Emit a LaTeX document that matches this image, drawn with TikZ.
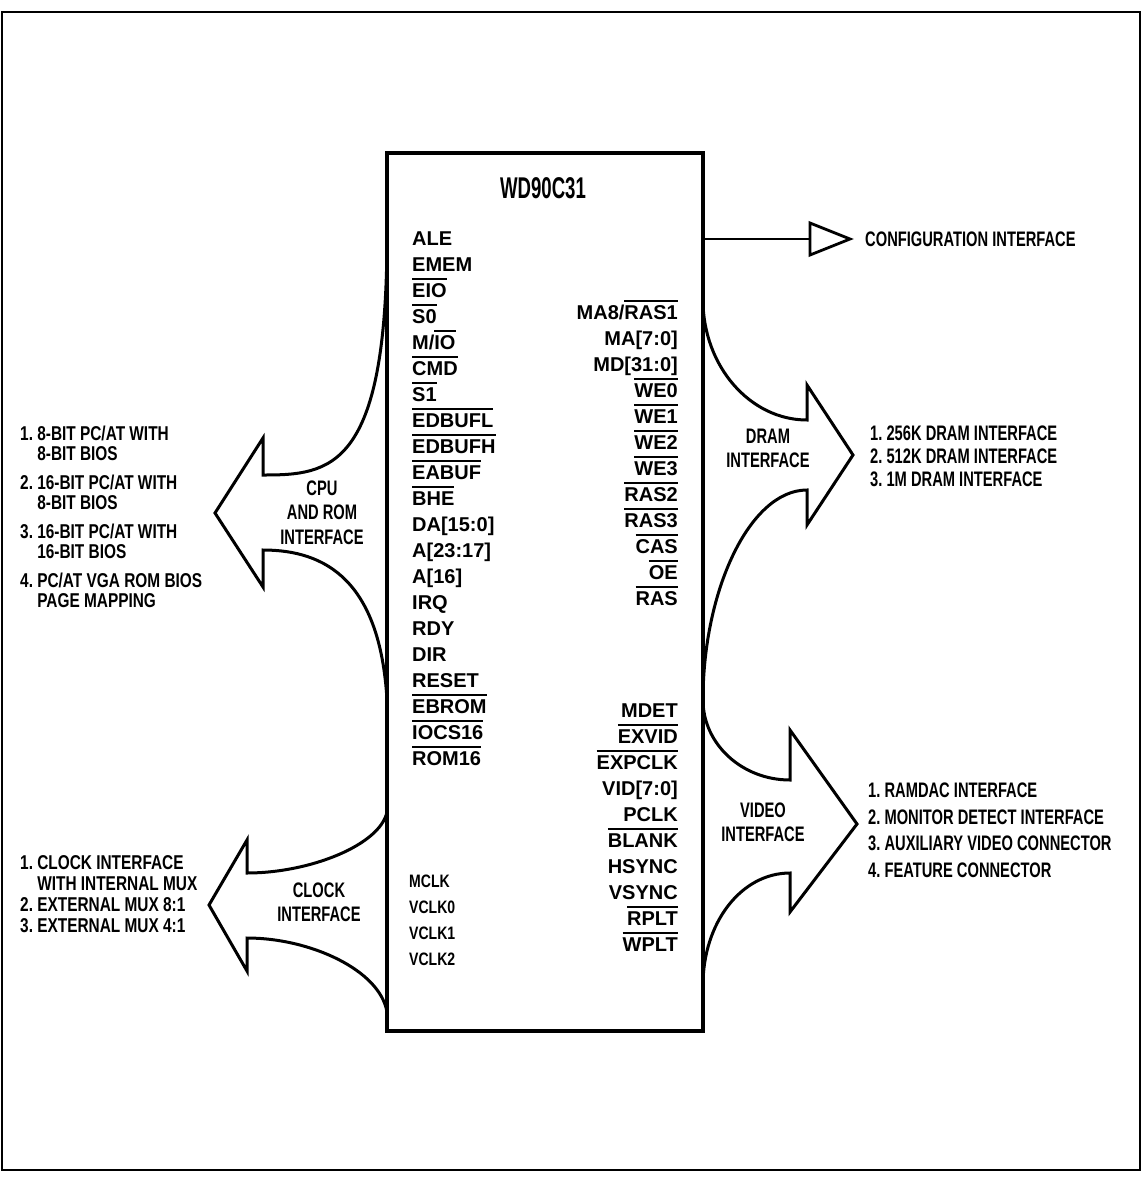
\documentclass[tikz,border=0pt]{standalone}
\usepackage{fontspec}
\setmainfont{Liberation Sans}
\newfontfamily\narrowfont{Liberation Sans}[FakeStretch=0.7]
\newfontfamily\listfont{Liberation Sans}[FakeStretch=0.77]
\newfontfamily\titlefont{Liberation Sans}[FakeStretch=0.62]
\newfontfamily\clkfont{Liberation Sans}[FakeStretch=0.78]
\usetikzlibrary{positioning}
% active-low signal names
\newcommand{\actlow}[1]{\vbox{\hrule height 1.8pt\kern 3pt\hbox{#1}}}

\begin{document}
\begin{tikzpicture}[x=1pt,y=-1pt,
  pin/.style={font=\fontsize{20}{20}\selectfont\bfseries,inner sep=0pt},
  clk/.style={font=\fontsize{18}{18}\selectfont\clkfont\bfseries,inner sep=0pt,anchor=base west},
  desc/.style={font=\fontsize{21}{21}\selectfont\narrowfont\bfseries,inner sep=0pt},
  lst/.style={font=\fontsize{20}{20}\selectfont\listfont\bfseries,inner sep=0pt,anchor=base west},
  blk/.style={font=\fontsize{21}{24.5}\selectfont\narrowfont\bfseries,inner sep=0pt,align=center},
  bigarrow/.style={line width=3pt,line join=miter}]
  \useasboundingbox (0,0) rectangle (1143,1178);
  \draw[line width=2.5pt] (2,12) rectangle (1140,1170);

  % the chip
  \node[draw,line width=3.3pt,minimum width=316pt,minimum height=878pt,inner sep=0pt] (chip) at (545,592) {};
  \node[font=\fontsize{30}{30}\selectfont\titlefont\bfseries,anchor=base,inner sep=0pt] (title) at (543,198) {WD90C31};

  \foreach \p [count=\i from 0] in {ALE,EMEM,\actlow{EIO},\actlow{S0},M/\actlow{IO},\actlow{CMD},\actlow{S1},\actlow{EDBUFL},\actlow{EDBUFH},\actlow{EABUF},\actlow{BHE},DA[15:0],A[23:17],A[16],IRQ,RDY,DIR,RESET,\actlow{EBROM},\actlow{IOCS16},\actlow{ROM16}}
    \node[pin,anchor=base west] (cpu\i) at (412,{245+26*\i}) {\p};
  \foreach \p [count=\i from 0] in {MA8/\actlow{RAS1},MA[7:0],MD[31:0],\actlow{WE0},\actlow{WE1},\actlow{WE2},\actlow{WE3},\actlow{RAS2},\actlow{RAS3},\actlow{CAS},\actlow{OE},\actlow{RAS}}
    \node[pin,anchor=base east] (mem\i) at (678,{319+26*\i}) {\p};
  \foreach \p [count=\i from 0] in {MDET,\actlow{EXVID},\actlow{EXPCLK},VID[7:0],PCLK,\actlow{BLANK},HSYNC,VSYNC,\actlow{RPLT},\actlow{WPLT}}
    \node[pin,anchor=base east] (vid\i) at (678,{717+26*\i}) {\p};
  \foreach \p [count=\i from 0] in {MCLK,VCLK0,VCLK1,VCLK2}
    \node[clk] (clk\i) at (409,{887+26*\i}) {\p};

  % configuration
  \coordinate (cfgbase) at (810,239);
  \draw[line width=2.8pt,line join=miter] (810,223) -- (850,239) -- (810,255) -- cycle;
  \draw[line width=2pt] (chip.east |- cfgbase) -- (cfgbase);
  \node[desc,anchor=base west] (cfgtxt) at (865,246) {CONFIGURATION INTERFACE};

  % cpu and rom
  \draw[bigarrow] (387,235) .. controls (387,470) and (330,475) .. (263,475) -- (263,438) -- (215,513)
    -- (263,587) -- (263,550) .. controls (325,550) and (380,580) .. (387,700);
  \node[blk] (cpulbl) at (322,512.5) {CPU\\AND ROM\\INTERFACE};
  \foreach \t [count=\i from 0] in {1.\ 8-BIT PC/AT WITH,\hphantom{1.}\ 8-BIT BIOS,2.\ 16-BIT PC/AT WITH,\hphantom{2.}\ 8-BIT BIOS,3.\ 16-BIT PC/AT WITH,\hphantom{3.}\ 16-BIT BIOS,4.\ PC/AT VGA ROM BIOS,\hphantom{4.}\ PAGE MAPPING}{
    \pgfmathsetmacro\yy{440+49*int(\i/2)+20*mod(\i,2)}
    \node[lst] (cpul\i) at (20,\yy) {\t};
  }

  % clock
  \draw[bigarrow] (387,812) .. controls (380,845) and (310,873) .. (247,873) -- (247,840) -- (209,905)
    -- (247,971) -- (247,938) .. controls (310,938) and (380,970) .. (387,1012);
  \node[blk] (clklbl) at (319,902.5) {CLOCK\\INTERFACE};
  \foreach \t [count=\i from 0] in {1.\ CLOCK INTERFACE,\hphantom{1.}\ WITH INTERNAL MUX,2.\ EXTERNAL MUX 8:1,3.\ EXTERNAL MUX 4:1}
    \node[lst] (clkl\i) at (20,{869+21*\i}) {\t};

  % dram
  \draw[bigarrow] (703,300) .. controls (703,366) and (750,420) .. (807,420) -- (807,385) -- (853,455)
    -- (807,525) -- (807,490) .. controls (750,490) and (703,590) .. (703,700);
  \node[blk] (dramlbl) at (768,448.5) {DRAM\\INTERFACE};
  \foreach \t [count=\i from 0] in {1.\ 256K DRAM INTERFACE,2.\ 512K DRAM INTERFACE,3.\ 1M DRAM INTERFACE}
    \node[desc,anchor=base west] (draml\i) at (870,{440.5+23*\i}) {\t};

  % video
  \draw[bigarrow] (703,700) .. controls (703,744) and (742,780) .. (790,780) -- (790,730) -- (857,824)
    -- (790,912) -- (790,873) .. controls (741,873) and (703,923) .. (703,985);
  \node[blk] (vidlbl) at (763,822.5) {VIDEO\\INTERFACE};
  \foreach \t [count=\i from 0] in {1.\ RAMDAC INTERFACE,2.\ MONITOR DETECT INTERFACE,3.\ AUXILIARY VIDEO CONNECTOR,4.\ FEATURE CONNECTOR}
    \node[desc,anchor=base west] (vidl\i) at (868,{797.5+26.7*\i}) {\t};
\end{tikzpicture}
\end{document}
